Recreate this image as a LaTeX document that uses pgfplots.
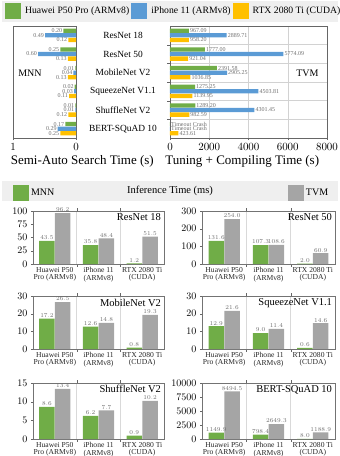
\documentclass[border=0pt]{standalone}
\usepackage{fontspec}
\setmainfont{Liberation Serif}
\usepackage{pgfplots}
\pgfplotsset{compat=1.18}

\definecolor{cgreen}{HTML}{70AD47}
\definecolor{cblue}{HTML}{5B9BD5}
\definecolor{cyellow}{HTML}{FFC000}
\definecolor{cgray}{HTML}{A5A5A5}
\definecolor{band}{HTML}{EFEFEF}
\definecolor{lbl}{HTML}{6F6F6F}

\newcommand{\fs}[1]{\fontsize{#1}{#1}\selectfont}
\tikzset{ttl/.style={font=\fs{10.5}, anchor=north east, inner sep=1.5pt}}

\pgfplotsset{
  sqlegend/.style={legend image code/.code={\path[##1,draw=none] (0pt,-7.5pt) rectangle (16pt,8pt);}},
  top/.style={
    anchor=north west, scale only axis, height=112pt,
    xbar, y dir=reverse, ymin=-0.5, ymax=5.5,
    bar width=4.3pt,
    minor ytick={0.5,1.5,2.5,3.5,4.5}, yminorgrids,
    minor grid style={gray!35}, major grid style={gray!35},
    axis line style={black!60}, tick style={black!60},
    xtick pos=bottom, tick align=outside, major tick length=2pt,
    xticklabel style={font=\fs{11}},
    xlabel style={font=\fs{13}},
    point meta=explicit symbolic, nodes near coords,
    clip=false,
  },
  sub/.style={
    anchor=north west, scale only axis,
    ybar, bar width=15.5pt, ymin=0,
    xmin=-0.5, xmax=2.5, xtick={0,1,2},
    xticklabels={Huawei P50\\Pro (ARMv8), iPhone 11\\(ARMv8), RTX 2080 Ti\\(CUDA)},
    xticklabel style={font=\fs{7.6}, align=center, text=black!85, inner sep=1pt},
    major x tick style={draw=none},
    minor xtick={0.5,1.5}, xminorgrids,
    minor grid style={gray!30},
    axis line style={black!55}, ytick pos=left, tick style={black!60},
    tick align=outside, major tick length=2pt,
    yticklabel style={font=\fs{10}},
    nodes near coords={\pgfmathprintnumber[fixed,fixed zerofill,precision=1,1000 sep={}]{\pgfplotspointmeta}},
    every node near coord/.append style={font=\fs{6.2}, text=lbl, inner sep=1pt},
    scaled y ticks=false, y tick label style={/pgf/number format/1000 sep={}},
    clip=false,
  },
}

\begin{document}
\begin{tikzpicture}
\path[use as bounding box] (0,0) rectangle (340pt,-456pt);
\fill[band] (2pt,-1pt) rectangle (338pt,-22pt);
\fill[band] (2pt,-181pt) rectangle (338pt,-201pt);

% ---- MNN semi-auto search ----
\begin{axis}[top, at={(13pt,-26pt)}, width=63pt,
  x dir=reverse, xmin=0, xmax=1, xtick={0,1},
  ytick=\empty,
  xlabel={Semi-Auto Search Time (s)},
  xlabel style={at={(axis description cs:1.1,0)}, anchor=north, yshift=-14pt},
  every node near coord/.append style={anchor=east, font=\fs{6}, text=lbl, inner xsep=1pt, inner ysep=0pt},
  sqlegend, legend columns=3,
  legend style={at={(axis description cs:-0.13,1.134)}, anchor=west, draw=none, fill=none,
    font=\fs{9.7}, inner sep=0pt, /tikz/every odd column/.append style={column sep=2pt}},
]
\addplot[fill=cgreen, draw=none, bar shift=4.6pt] coordinates {
  (0.20,0) [0.20] (0.25,1) [0.25] (0.01,2) [0.01] (0.02,3) [0.02] (0.01,4) [0.01] (0.17,5) [0.17]};
\addlegendentry{Huawei P50 Pro (ARMv8)}
\addplot[fill=cblue, draw=none, bar shift=0pt] coordinates {
  (0.49,0) [0.49] (0.60,1) [0.60] (0.04,2) [0.04] (0.03,3) [0.03] (0.01,4) [0.01] (0.29,5) [0.29]};
\addlegendentry{iPhone 11 (ARMv8)}
\addplot[fill=cyellow, draw=none, bar shift=-4.6pt] coordinates {
  (0.12,0) [0.12] (0.13,1) [0.13] (0.13,2) [0.13] (0.11,3) [0.11] (0.12,4) [0.12] (0.25,5) [0.25]};
\addlegendentry{RTX 2080 Ti (CUDA)}
\node[font=\fs{10}] at (axis description cs:0.27,0.58) {MNN};
\end{axis}

% ---- TVM tuning + compiling ----
\begin{axis}[top, at={(170pt,-26pt)}, width=157pt,
  xmin=0, xmax=8000, xtick={0,2000,4000,6000,8000}, xmajorgrids,
  /pgf/number format/1000 sep={}, scaled x ticks=false,
  ytick={0,1,2,3,4,5}, ytick pos=left, major y tick style={draw=none},
  yticklabels={ResNet 18, ResNet 50, MobileNet V2, SqueezeNet V1.1, ShuffleNet V2, BERT-SQuAD 10},
  yticklabel style={font=\fs{9.4}, anchor=center, xshift=-45pt},
  xlabel={Tuning + Compiling Time (s)},
  xlabel style={at={(axis description cs:0.46,0)}, anchor=north, yshift=-14pt},
  every node near coord/.append style={anchor=west, font=\fs{6}, text=lbl, inner xsep=1pt, inner ysep=0pt},
]
\addplot[fill=cgreen, draw=none, bar shift=4.6pt] coordinates {
  (967.09,0) [967.09] (1777.00,1) [1777.00] (2391.58,2) [2391.58] (1275.25,3) [1275.25] (1289.20,4) [1289.20] (0,5) [Timeout Crash]};
\addplot[fill=cblue, draw=none, bar shift=0pt] coordinates {
  (2889.71,0) [2889.71] (5774.09,1) [5774.09] (2905.25,2) [2905.25] (4503.81,3) [4503.81] (4301.45,4) [4301.45] (0,5) [Timeout Crash]};
\addplot[fill=cyellow, draw=none, bar shift=-4.6pt] coordinates {
  (958.20,0) [958.20] (921.04,1) [921.04] (1036.85,2) [1036.85] (1139.95,3) [1139.95] (982.59,4) [982.59] (423.61,5) [423.61]};
\node[font=\fs{10}] at (axis description cs:0.875,0.58) {TVM};
\end{axis}

\node[font=\fs{10.5}] at (170pt,-191pt) {Inference Time (ms)};

% ---- ResNet 18 ----
\begin{axis}[sub, at={(33pt,-211pt)}, width=131pt, height=53pt,
  ymax=100, ytick={0,25,50,75,100},
  sqlegend, legend style={at={(axis description cs:-0.154,1.34)}, anchor=west, draw=none, fill=none,
    font=\fs{10}, inner sep=0pt},
]
\addplot[fill=cgreen, draw=none, bar shift=-7.9pt] coordinates {(0,43.5) (1,35.8) (2,1.2)};
\addlegendentry{MNN}
\addplot[fill=cgray, draw=none, bar shift=7.9pt] coordinates {(0,96.2) (1,48.4) (2,51.5)};
\node[ttl] at (axis description cs:0.99,0.98) {ResNet 18};
\end{axis}

% ---- ResNet 50 ----
\begin{axis}[sub, at={(202pt,-211pt)}, width=133pt, height=53pt,
  ymax=300, ytick={0,100,200,300},
  sqlegend, legend style={at={(axis description cs:0.645,1.34)}, anchor=west, draw=none, fill=none,
    font=\fs{10}, inner sep=0pt},
]
\addplot[fill=cgray, draw=none, bar shift=7.9pt] coordinates {(0,254.0) (1,108.6) (2,60.9)};
\addlegendentry{TVM}
\addplot[fill=cgreen, draw=none, bar shift=-7.9pt] coordinates {(0,131.6) (1,107.3) (2,2.0)};
\node[ttl] at (axis description cs:0.99,0.98) {ResNet 50};
\end{axis}

% ---- MobileNet V2 ----
\begin{axis}[sub, at={(33pt,-296pt)}, width=131pt, height=53pt,
  ymax=30, ytick={0,10,20,30}]
\addplot[fill=cgreen, draw=none, bar shift=-7.9pt] coordinates {(0,17.2) (1,12.6) (2,0.8)};
\addplot[fill=cgray, draw=none, bar shift=7.9pt] coordinates {(0,26.5) (1,14.8) (2,19.3)};
\node[ttl] at (axis description cs:0.99,0.98) {MobileNet V2};
\end{axis}

% ---- SqueezeNet V1.1 ----
\begin{axis}[sub, at={(202pt,-296pt)}, width=133pt, height=53pt,
  ymax=30, ytick={0,10,20,30}]
\addplot[fill=cgreen, draw=none, bar shift=-7.9pt] coordinates {(0,12.9) (1,9.0) (2,0.6)};
\addplot[fill=cgray, draw=none, bar shift=7.9pt] coordinates {(0,21.6) (1,11.4) (2,14.6)};
\node[ttl] at (axis description cs:0.99,0.98) {SqueezeNet V1.1};
\end{axis}

% ---- ShuffleNet V2 ----
\begin{axis}[sub, at={(33pt,-383pt)}, width=131pt, height=56pt,
  ymax=15, ytick={0,5,10,15}]
\addplot[fill=cgreen, draw=none, bar shift=-7.9pt] coordinates {(0,8.6) (1,6.2) (2,0.9)};
\addplot[fill=cgray, draw=none, bar shift=7.9pt] coordinates {(0,13.4) (1,7.7) (2,10.2)};
\node[ttl] at (axis description cs:0.99,0.99) {ShuffleNet V2};
\end{axis}

% ---- BERT-SQuAD 10 ----
\begin{axis}[sub, at={(202pt,-383pt)}, width=133pt, height=56pt,
  ymax=10000, ytick={0,2500,5000,7500,10000}]
\addplot[fill=cgreen, draw=none, bar shift=-7.9pt] coordinates {(0,1149.9) (1,798.4) (2,8.0)};
\addplot[fill=cgray, draw=none, bar shift=7.9pt] coordinates {(0,8494.5) (1,2649.3) (2,1188.9)};
\node[ttl] at (axis description cs:0.99,0.98) {BERT-SQuAD 10};
\end{axis}
\end{tikzpicture}
\end{document}
